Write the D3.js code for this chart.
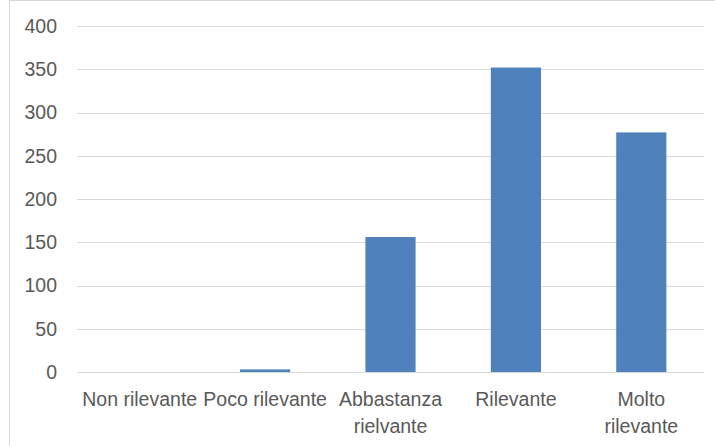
<!DOCTYPE html>
<html>
<head>
<meta charset="utf-8">
<script src="https://cdn.jsdelivr.net/npm/d3@7"></script>
<style>
  body { margin: 0; background: #fff; }
  text { font-family: "Liberation Sans", Arial, sans-serif; fill: #595959; }
</style>
</head>
<body>
<svg width="715" height="446"></svg>
<script>
// categorie e valori
const categories = ["Non rilevante", "Poco rilevante", "Abbastanza rielvante", "Rilevante", "Molto rilevante"];
const values = [0, 3, 156, 352, 277];
const yTicks = [0, 50, 100, 150, 200, 250, 300, 350, 400];

const svg = d3.select("svg");
const margin = { top: 26, right: 11, bottom: 74, left: 77 };
const width = +svg.attr("width");
const height = +svg.attr("height");
const fontSize = 19.5;

// bordo dell'area grafico
svg.append("rect")
  .attr("x", 9.5).attr("y", 0.5)
  .attr("width", width + 10).attr("height", height + 10)
  .attr("fill", "none")
  .attr("stroke", "#d9d9d9");

const x = d3.scaleBand()
  .domain(categories)
  .range([margin.left, width - margin.right])
  .paddingInner(0.6)
  .paddingOuter(0.3);

const y = d3.scaleLinear()
  .domain([0, 400])
  .range([height - margin.bottom, margin.top]);

// griglia
svg.append("g")
  .selectAll("line")
  .data(yTicks)
  .join("line")
  .attr("x1", margin.left)
  .attr("x2", width - margin.right)
  .attr("y1", d => Math.round(y(d)) + 0.5)
  .attr("y2", d => Math.round(y(d)) + 0.5)
  .attr("stroke", "#d9d9d9")
  .attr("stroke-width", 1);

// asse y
const yAxis = svg.append("g")
  .attr("transform", `translate(${margin.left - 20},0)`)
  .call(d3.axisLeft(y).tickValues(yTicks).tickSize(0).tickPadding(0));
yAxis.select(".domain").remove();
yAxis.selectAll("text")
  .attr("font-size", fontSize)
  .attr("font-family", null)
  .attr("fill", null);

// barre
svg.append("g")
  .selectAll("rect")
  .data(values)
  .join("rect")
  .attr("x", (d, i) => x(categories[i]))
  .attr("y", d => y(d))
  .attr("width", x.bandwidth())
  .attr("height", d => y(0) - y(d))
  .attr("fill", "#4f81bd");

// asse x con etichette a capo
const xAxis = svg.append("g")
  .attr("transform", `translate(0,${y(0)})`)
  .call(d3.axisBottom(x).tickSize(0).tickPadding(0));
xAxis.select(".domain").remove();
xAxis.selectAll("text")
  .attr("font-size", fontSize)
  .attr("font-family", null)
  .attr("fill", null)
  .attr("dy", null)
  .attr("y", 0)
  .each(function(d) {
    const t = d3.select(this);
    const lines = d.length > 14 ? d.split(" ") : [d];
    t.text(null);
    lines.forEach((l, i) => {
      t.append("tspan")
        .attr("x", 0)
        .attr("y", 34 + i * 27)
        .text(l);
    });
  });
</script>
</body>
</html>
